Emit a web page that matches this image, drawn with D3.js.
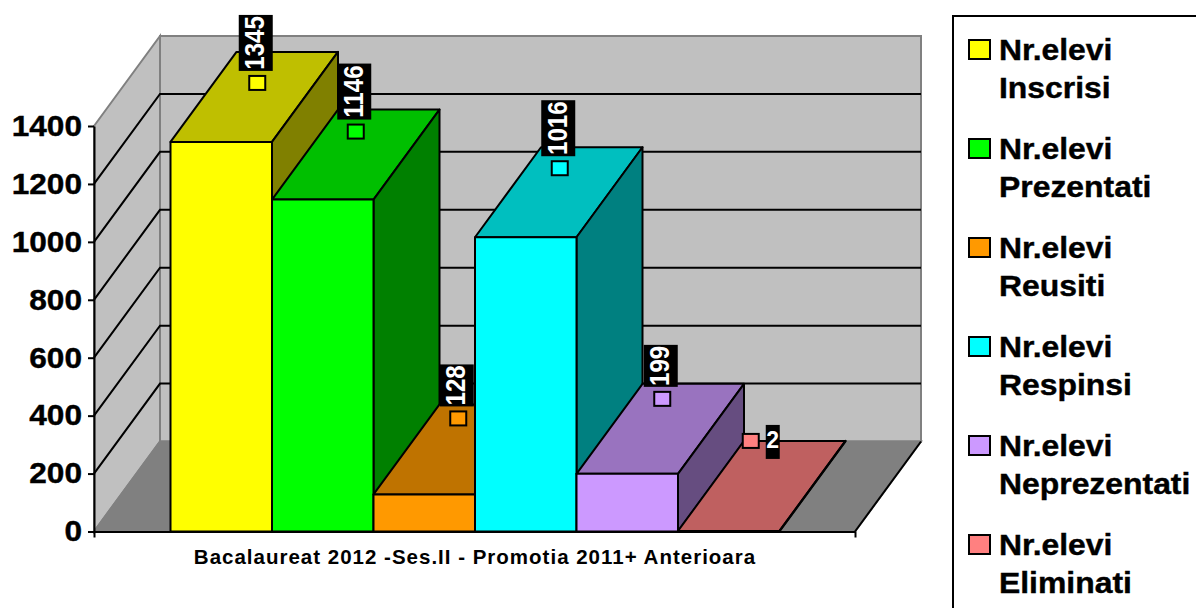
<!DOCTYPE html>
<html><head><meta charset="utf-8">
<script src="https://cdn.jsdelivr.net/npm/d3@7"></script>
<style>html,body{margin:0;padding:0;background:#fff;overflow:hidden}svg{display:block}text{font-family:"Liberation Sans",Arial,sans-serif;font-weight:700}</style>
</head><body><svg id="c" width="1196" height="608"></svg>
<script>
const seriesNames = ["Inscrisi","Prezentati","Reusiti","Respinsi","Neprezentati","Eliminati"];
const seriesValues = [1345,1146,128,1016,199,2];
const seriesColors = ["#ffff00","#00ff00","#ff9900","#00ffff","#cc99ff","#ff8080"];
const yTicks = [0,200,400,600,800,1000,1200,1400];
const categoryLabel = "Bacalaureat 2012 -Ses.II - Promotia 2011+ Anterioara";
const legendPrefix = "Nr.elevi";
// marker placement relative to each bar's front-top edge (layout)
const markerLift = [59,68,76,69,75,90];
const markerShift = [36,33,34,34,35,22];

const svg = d3.select("#c");
const x0=94,x1=855,y0=531.5,y1=126,dx=66,dy=-90;
const y=d3.scaleLinear().domain([0,1400]).range([y0,y1]);
const x=d3.scaleBand().domain(seriesNames).range([170.5,779.5]).padding(0);
const path=p=>"M"+p.map(q=>q.join(",")).join("L")+"Z";

// walls
svg.append("path").attr("d",path([[x0,y1],[x0+dx,y1+dy],[x0+dx,y0+dy],[x0,y0]])).attr("fill","#c0c0c0").attr("stroke","#808080").attr("stroke-width",2);
svg.append("path").attr("d",path([[x0+dx,y1+dy],[x1+dx,y1+dy],[x1+dx,y0+dy],[x0+dx,y0+dy]])).attr("fill","#c0c0c0").attr("stroke","#808080").attr("stroke-width",2);
svg.append("path").attr("d",path([[x0,y0],[x0+dx,y0+dy],[x1+dx,y0+dy],[x1,y0]])).attr("fill","#808080").attr("stroke","#808080").attr("stroke-width",2);
// gridlines
const inner=yTicks.filter(t=>t>0&&t<1400);
svg.append("g").selectAll("path").data(inner).join("path")
  .attr("d",t=>`M${x0},${y(t)}L${x0+dx},${y(t)+dy}L${x1+dx},${y(t)+dy}`)
  .attr("fill","none").attr("stroke","#000").attr("stroke-width",2);
// floor edge
svg.append("path").attr("d",`M${x1},${y0}L${x1+dx},${y0+dy}`).attr("stroke","#000").attr("stroke-width",2);

// axes
const ax=svg.append("g").attr("transform",`translate(${x0},0)`).call(d3.axisLeft(y).tickValues(yTicks).tickSize(6).tickSizeOuter(0).tickPadding(5).tickFormat(d3.format("d")));
ax.selectAll("path,line").attr("stroke","#000").attr("stroke-width",2);
ax.selectAll("text").attr("font-size",29).attr("x",0).attr("transform","translate(-12,0) scale(1.09,1)").attr("fill","#000").attr("stroke","#000").attr("stroke-width",.4).style("font-family",'"Liberation Sans",Arial,sans-serif').style("font-weight",700);
const xAxisScale=d3.scaleLinear().domain([0,1]).range([x0,x1]);
const bx=svg.append("g").attr("transform",`translate(0,${y0})`).call(d3.axisBottom(xAxisScale).tickValues([0,1]).tickSize(6).tickSizeOuter(0).tickFormat(""));
bx.selectAll("path,line").attr("stroke","#000").attr("stroke-width",2);
svg.append("text").attr("x",475).attr("y",564).attr("text-anchor","middle").attr("font-size",20.5).attr("letter-spacing",1).attr("fill","#000").text(categoryLabel);

// bars
const shade=(c,k)=>{const q=d3.rgb(c);return d3.rgb(q.r*k,q.g*k,q.b*k).formatHex();};
const bars=svg.append("g").selectAll("g").data(seriesNames).join("g");
bars.each(function(n,i){
  const g=d3.select(this),l=x(n),r=l+x.bandwidth(),t=y(seriesValues[i]),c=seriesColors[i];
  const add=(pts,f)=>g.append("path").attr("d",path(pts)).attr("fill",f).attr("stroke","#000").attr("stroke-width",2).attr("stroke-linejoin","round");
  add([[l,t],[l+dx,t+dy],[r+dx,t+dy],[r,t]],shade(c,.75));
  add([[r,t],[r+dx,t+dy],[r+dx,y0+dy],[r,y0]],shade(c,.5));
  add([[l,t],[r,t],[r,y0],[l,y0]],c);
});

// markers + labels
const labels=svg.append("g");
seriesNames.forEach((n,i)=>{
  const mx=x(n)+x.bandwidth()/2+markerShift[i], my=y(seriesValues[i])-markerLift[i];
  labels.append("rect").attr("x",mx-8).attr("y",my-7).attr("width",16).attr("height",14).attr("fill",seriesColors[i]).attr("stroke","#000").attr("stroke-width",2);
  const s=String(seriesValues[i]);
  if(s.length>1){
    const h=s.length*14, cx=mx-1.5, bottom=my-12;
    labels.append("rect").attr("x",cx-17).attr("y",bottom-h).attr("width",34).attr("height",h).attr("fill","#000");
    labels.append("text").attr("transform",`translate(${cx+8.5},${bottom-h/2}) rotate(-90) scale(.86,1)`).attr("text-anchor","middle").attr("font-size",28).attr("fill","#fff").text(s);
  } else {
    labels.append("rect").attr("x",mx+15).attr("y",my-16).attr("width",14).attr("height",34).attr("fill","#000");
    labels.append("text").attr("x",mx+22).attr("y",my+7).attr("text-anchor","middle").attr("font-size",23).attr("fill","#fff").text(s);
  }
});

// legend
svg.append("rect").attr("x",953).attr("y",16).attr("width",260).attr("height",620).attr("fill","#fff").attr("stroke","#000").attr("stroke-width",2);
const lg=svg.append("g").selectAll("g").data(seriesNames).join("g").attr("transform",(d,i)=>`translate(0,${i*99})`);
lg.append("rect").attr("x",969).attr("y",40).attr("width",21).attr("height",19).attr("fill",(d,i)=>seriesColors[i]).attr("stroke","#000").attr("stroke-width",2);
const lt=(yy,fn)=>lg.append("text").attr("transform",`translate(999,${yy}) scale(1.1,1)`).attr("font-size",29).attr("fill","#000").attr("stroke","#000").attr("stroke-width",.4).text(fn);
lt(60,legendPrefix);
lt(98,d=>d);
</script></body></html>
